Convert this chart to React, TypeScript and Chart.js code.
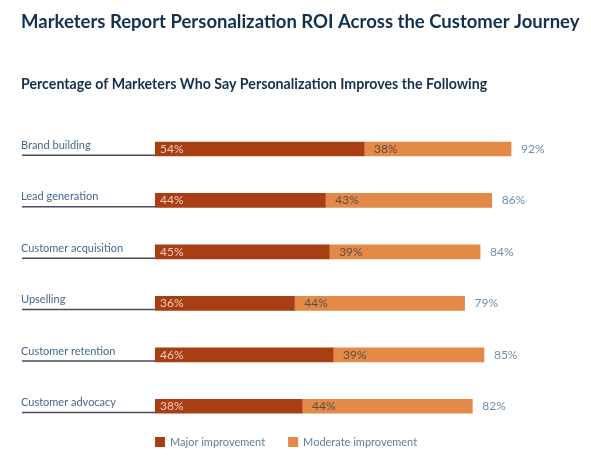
import React, { useEffect, useRef } from "react";
import { Chart, registerables } from "chart.js";

Chart.register(...registerables);

const categories = [
  "Brand building",
  "Lead generation",
  "Customer acquisition",
  "Upselling",
  "Customer retention",
  "Customer advocacy",
];
const majorValues = [54, 44, 45, 36, 46, 38];
const moderateValues = [38, 43, 39, 44, 39, 44];
const totalValues = [92, 86, 84, 79, 85, 82];
const seriesNames = ["Major improvement", "Moderate improvement"];
const titleText = "Marketers Report Personalization ROI Across the Customer Journey";
const subtitleText = "Percentage of Marketers Who Say Personalization Improves the Following";

const MAJOR = "#A73E14";
const MODERATE = "#E48A48";
const FONT = "Lato, 'Open Sans', sans-serif";

const labelPlugin = {
  id: "customLabels",
  afterDatasetsDraw(chart: any) {
    const ctx = chart.ctx;
    const area = chart.chartArea;
    const m0 = chart.getDatasetMeta(0);
    const m1 = chart.getDatasetMeta(1);
    ctx.save();
    categories.forEach((cat, i) => {
      const b0 = m0.data[i];
      const b1 = m1.data[i];
      const yc = b0.y;
      const half = b0.height / 2;
      ctx.strokeStyle = "#4a4a5c";
      ctx.lineWidth = 1.5;
      ctx.beginPath();
      ctx.moveTo(22, yc + half - 0.75);
      ctx.lineTo(b0.base, yc + half - 0.75);
      ctx.stroke();
      ctx.font = `11px ${FONT}`;
      ctx.textAlign = "left";
      ctx.textBaseline = "alphabetic";
      ctx.fillStyle = "#44698a";
      ctx.fillText(cat, 21, yc);
      ctx.font = `12px ${FONT}`;
      ctx.fillStyle = "#F6CDB8";
      ctx.fillText(`${majorValues[i]}%`, b0.base + 5, yc + 4);
      ctx.fillStyle = "#5a4e48";
      ctx.fillText(`${moderateValues[i]}%`, b1.base + 10, yc + 4);
      ctx.fillStyle = "#6f8fab";
      ctx.fillText(`${totalValues[i]}%`, b1.x + 10, yc + 4);
    });
    const ly = area.bottom + 10;
    let lx = area.left;
    ctx.font = `11px ${FONT}`;
    ctx.textBaseline = "middle";
    [MAJOR, MODERATE].forEach((c, k) => {
      ctx.fillStyle = c;
      ctx.fillRect(lx, ly - 5, 10, 10);
      ctx.fillStyle = "#5c7d99";
      ctx.fillText(seriesNames[k], lx + 15, ly);
      lx += 15 + ctx.measureText(seriesNames[k]).width + 23;
    });
    ctx.restore();
  },
};

export default function App() {
  const ref = useRef<HTMLCanvasElement | null>(null);
  useEffect(() => {
    document.body.style.margin = "0";
    const chart = new Chart(ref.current as HTMLCanvasElement, {
      type: "bar",
      data: {
        labels: categories,
        datasets: [
          { label: seriesNames[0], data: majorValues, backgroundColor: MAJOR, barThickness: 14 },
          { label: seriesNames[1], data: moderateValues, backgroundColor: MODERATE, barThickness: 14 },
        ],
      },
      options: {
        indexAxis: "y",
        animation: false,
        responsive: true,
        maintainAspectRatio: false,
        layout: { padding: { left: 21, right: 5, top: 0, bottom: 24 } },
        scales: {
          x: { stacked: true, min: 0, max: 100, display: false },
          y: {
            stacked: true,
            grid: { display: false },
            border: { display: false },
            ticks: { display: false },
            afterFit: (s: any) => {
              s.width = 134;
            },
          },
          yRight: {
            type: "category",
            position: "right",
            labels: categories,
            grid: { display: false },
            border: { display: false },
            ticks: { display: false },
            afterFit: (s: any) => {
              s.width = 44;
            },
          },
        },
        plugins: {
          legend: { display: false },
          tooltip: { enabled: false },
          title: {
            display: true,
            text: titleText,
            align: "start",
            color: "#12304F",
            font: { family: FONT, size: 18.5, weight: "bold", lineHeight: 1.2 },
            padding: { top: 11, bottom: 30 },
          },
          subtitle: {
            display: true,
            text: subtitleText,
            align: "start",
            color: "#12304F",
            font: { family: FONT, size: 14.2, weight: "bold", lineHeight: 1.2 },
            padding: { top: 12.5, bottom: 30.5 },
          },
        },
      },
      plugins: [labelPlugin],
    });
    return () => chart.destroy();
  }, []);
  return (
    <div style={{ width: 591, height: 456, position: "relative" }}>
      <canvas ref={ref} />
    </div>
  );
}
